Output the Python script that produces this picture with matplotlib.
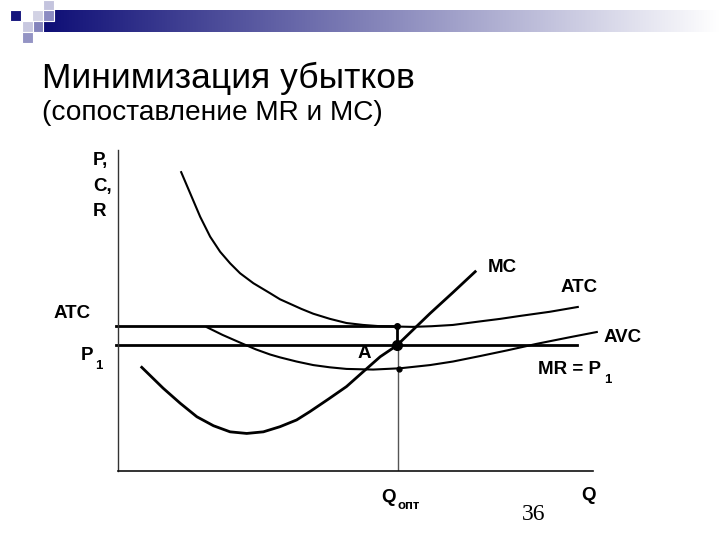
import numpy as np
import matplotlib
matplotlib.use("Agg")
import matplotlib.pyplot as plt
from matplotlib.patches import Rectangle

plt.rcParams['font.family'] = ['Liberation Sans', 'DejaVu Sans']

# кривые (Q, P) в условных единицах 0..100
atc_q = [13.3, 15.2, 17.3, 19.4, 21.5, 23.6, 25.7, 28.5, 32.0, 34.1, 36.2, 38.6, 41.1, 44.6, 48.1,
         51.6, 55.2, 58.5, 62.0, 66.0, 70.5, 76.2, 80.5, 84.6, 90.9, 96.8]
atc_p = [93.1, 86.5, 79.2, 73.0, 68.3, 64.7, 61.6, 58.5, 55.4, 53.5, 52.1, 50.5, 49.0, 47.4, 46.1,
         45.5, 45.1, 45.0, 44.9, 45.1, 45.5, 46.6, 47.4, 48.3, 49.6, 51.1]

avc_q = [18.7, 22.0, 25.7, 29.0, 32.0, 34.1, 37.6, 41.1, 44.6, 48.1, 53.7, 59.4, 65.7, 70.5, 76.2,
         82.0, 88.1, 95.2, 100.8]
avc_p = [44.8, 42.4, 40.0, 37.9, 36.3, 35.4, 34.1, 33.0, 32.3, 31.8, 31.6, 32.0, 33.0, 34.1, 35.8,
         37.6, 39.6, 41.7, 43.3]

mc_q = [5.0, 9.5, 13.1, 16.6, 20.1, 23.6, 27.1, 30.6, 34.1, 37.6, 40.4, 44.3, 48.1, 51.6, 55.2,
        58.7, 62.2, 65.7, 70.5, 75.2]
mc_p = [32.3, 25.8, 21.1, 16.9, 14.1, 12.2, 11.7, 12.2, 13.8, 15.9, 18.5, 22.4, 26.3, 30.9, 35.6,
        39.1, 44.1, 49.1, 55.6, 62.1]

p1 = 39.1
atc_level = 45.2
q_opt = 58.7
avc_at_q = 31.9
p1_end = 96.6

fig = plt.figure(figsize=(7.2, 5.4), dpi=100)

# фон слайда: полоса-градиент и квадраты
deco = fig.add_axes([0, 0, 1, 1])
deco.set_xlim(0, 720)
deco.set_ylim(540, 0)
deco.axis('off')
grad = np.linspace(0, 1, 256).reshape(1, -1)
left = np.array([14, 14, 118]) / 255
cols = left[None, None, :] + (1 - left[None, None, :]) * grad[..., None]
deco.imshow(cols, extent=(43, 720, 32, 10), aspect='auto', zorder=1)
for (x, y, c) in [(10, 10, '#14147c'), (43, 0, '#c4c4de'), (32, 10, '#d2d2e4'),
                  (43, 10, '#8c8cc2'), (32, 21, '#8484bc'), (22, 21, '#c8c8e0'),
                  (22, 32, '#9494c4')]:
    deco.add_patch(Rectangle((x, y), 11, 11, facecolor=c, edgecolor='white', lw=0.8, zorder=2))

deco.text(42, 88, 'Минимизация убытков', fontsize=25.5, va='baseline', ha='left')
deco.text(42, 120, '(сопоставление MR и MC)', fontsize=20.2, va='baseline', ha='left')

# график
ax = fig.add_axes([118 / 720, 69 / 540, 475 / 720, 321 / 540])
ax.set_xlim(0, 100)
ax.set_ylim(0, 100)
for s in ['top', 'right']:
    ax.spines[s].set_visible(False)
ax.spines['left'].set_color('#333333')
ax.spines['bottom'].set_color('#111111')
ax.spines['left'].set_linewidth(1.0)
ax.spines['bottom'].set_linewidth(1.2)
ax.set_xticks([])
ax.set_yticks([])
ax.patch.set_alpha(0)

ax.plot(atc_q, atc_p, color='black', lw=1.5, clip_on=False, solid_joinstyle='round')
ax.plot(avc_q, avc_p, color='black', lw=1.5, clip_on=False, solid_joinstyle='round')
ax.plot(mc_q, mc_p, color='black', lw=2.0, clip_on=False, solid_joinstyle='round')
ax.plot([-0.5, q_opt], [atc_level, atc_level], color='black', lw=2.0, clip_on=False)
ax.plot([-0.5, p1_end], [p1, p1], color='black', lw=2.0, clip_on=False)
ax.plot([q_opt, q_opt], [p1, atc_level], color='black', lw=2.0)
ax.plot([q_opt + 0.2, q_opt + 0.2], [0, p1], color='#555555', lw=1.0)
ax.plot([q_opt], [atc_level], 'o', color='black', ms=4)
ax.plot([q_opt], [p1], 'o', color='black', ms=7)
ax.plot([q_opt + 0.5], [avc_at_q], 'o', color='black', ms=3.5)

lab = dict(fontsize=13.5, fontweight='bold', va='center')
sub = dict(fontsize=9.5, fontweight='bold', va='center')
deco.text(93, 161, 'P,', ha='left', **lab)
deco.text(93, 186, 'C,', ha='left', **lab)
deco.text(93, 211, 'R', ha='left', **lab)
deco.text(54, 313, 'ATC', ha='left', **lab)
deco.text(81, 355, 'P', ha='left', **lab)
deco.text(95, 366, '1', ha='left', **sub)
deco.text(358, 354, 'A', ha='left', **lab)
deco.text(488, 268, 'MC', ha='left', **lab)
deco.text(561, 287, 'ATC', ha='left', **lab)
deco.text(604, 337, 'AVC', ha='left', **lab)
deco.text(538, 369, 'MR = P', ha='left', **lab)
deco.text(604, 380, '1', ha='left', **sub)
deco.text(381, 497, 'Q', ha='left', **lab)
deco.text(398, 506, 'опт', ha='left', **sub)
deco.text(581, 495, 'Q', ha='left', **lab)
deco.text(522, 520, '36', ha='left', va='baseline', fontsize=17, family='Liberation Serif')

fig.savefig('out.png', dpi=100)
